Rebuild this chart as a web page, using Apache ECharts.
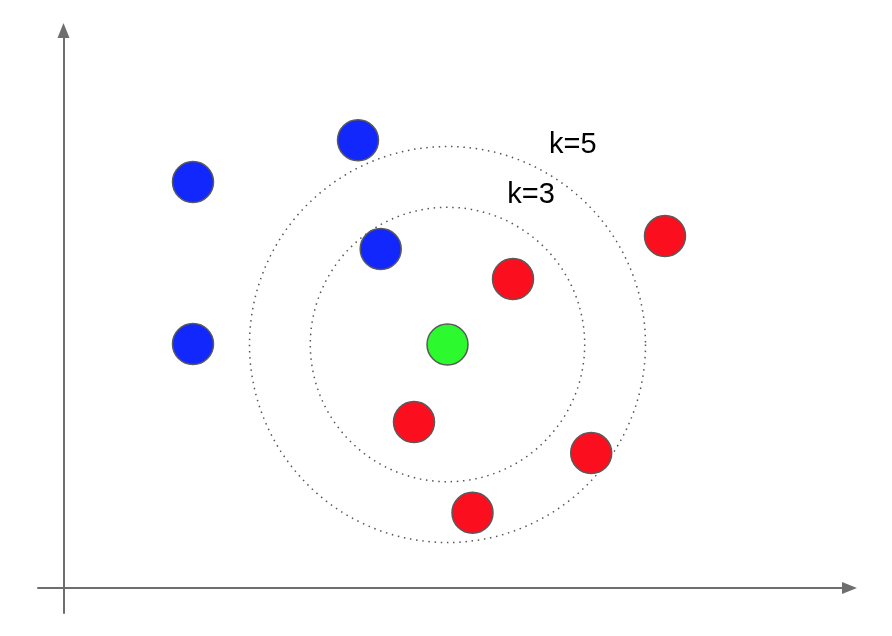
<!DOCTYPE html>
<html>
<head>
<meta charset="utf-8">
<script src="https://cdn.jsdelivr.net/npm/echarts@6/dist/echarts.min.js"></script>
<style>html,body{margin:0;padding:0;background:#fff;}#main{width:892px;height:636px;}</style>
</head>
<body>
<div id="main"></div>
<script>
// Data (arbitrary units)
var bluePoints = [[12.95, 40.6], [29.45, 44.77], [31.72, 33.9], [12.95, 24.4]];
var redPoints = [[60.15, 35.2], [44.95, 30.9], [35.05, 16.6], [52.77, 13.5], [40.9, 7.52]];
var greenPoints = [[38.4, 24.35]];
// rings: [centerX, centerY, radius]
var rings = [[38.4, 24.35, 13.72], [38.4, 24.35, 19.8]];
// labels: [x, y, text]
var ringLabels = [[48.55, 44.3, 'k=5'], [44.38, 39.27, 'k=3']];

var chart = echarts.init(document.getElementById('main'), null, {renderer: 'canvas'});
var axisCommon = {
  type: 'value',
  axisLine: {show: true, onZero: true, symbol: ['none', 'triangle'], symbolSize: [12, 15],
    lineStyle: {color: '#6e6e6e', width: 2}},
  axisTick: {show: false},
  axisLabel: {show: false},
  splitLine: {show: false}
};
var pointStyle = function (color) {
  return {color: color, borderColor: '#5a5a5a', borderWidth: 1.5, opacity: 1};
};
chart.setOption({
  animation: false,
  backgroundColor: '#ffffff',
  grid: {left: 38, right: 42.5, top: 30.5, bottom: 23},
  xAxis: Object.assign({}, axisCommon, {min: -2.55, max: 78.6}),
  yAxis: Object.assign({}, axisCommon, {min: -2.5, max: 55.75}),
  series: [
    {
      type: 'custom',
      silent: true,
      data: rings,
      renderItem: function (params, api) {
        var c = api.coord([api.value(0), api.value(1)]);
        var r = api.size([api.value(2), 0])[0];
        return {
          type: 'circle',
          shape: {cx: c[0], cy: c[1], r: r},
          style: {fill: 'none', stroke: '#555555', lineWidth: 1.5, lineDash: [1.5, 4.7]}
        };
      }
    },
    {
      type: 'custom',
      silent: true,
      data: ringLabels,
      renderItem: function (params, api) {
        var c = api.coord([api.value(0), api.value(1)]);
        return {
          type: 'text',
          x: c[0], y: c[1],
          style: {text: ringLabels[params.dataIndex][2], fill: '#000000',
            font: '29px "Liberation Sans", Arial, sans-serif', align: 'left', verticalAlign: 'middle'}
        };
      }
    },
    {type: 'scatter', data: bluePoints, symbolSize: 41, itemStyle: pointStyle('#1227fb'), z: 5},
    {type: 'scatter', data: redPoints, symbolSize: 41, itemStyle: pointStyle('#fb0f1f'), z: 5},
    {type: 'scatter', data: greenPoints, symbolSize: 41, itemStyle: pointStyle('#2cfa2f'), z: 5}
  ]
});
</script>
</body>
</html>
